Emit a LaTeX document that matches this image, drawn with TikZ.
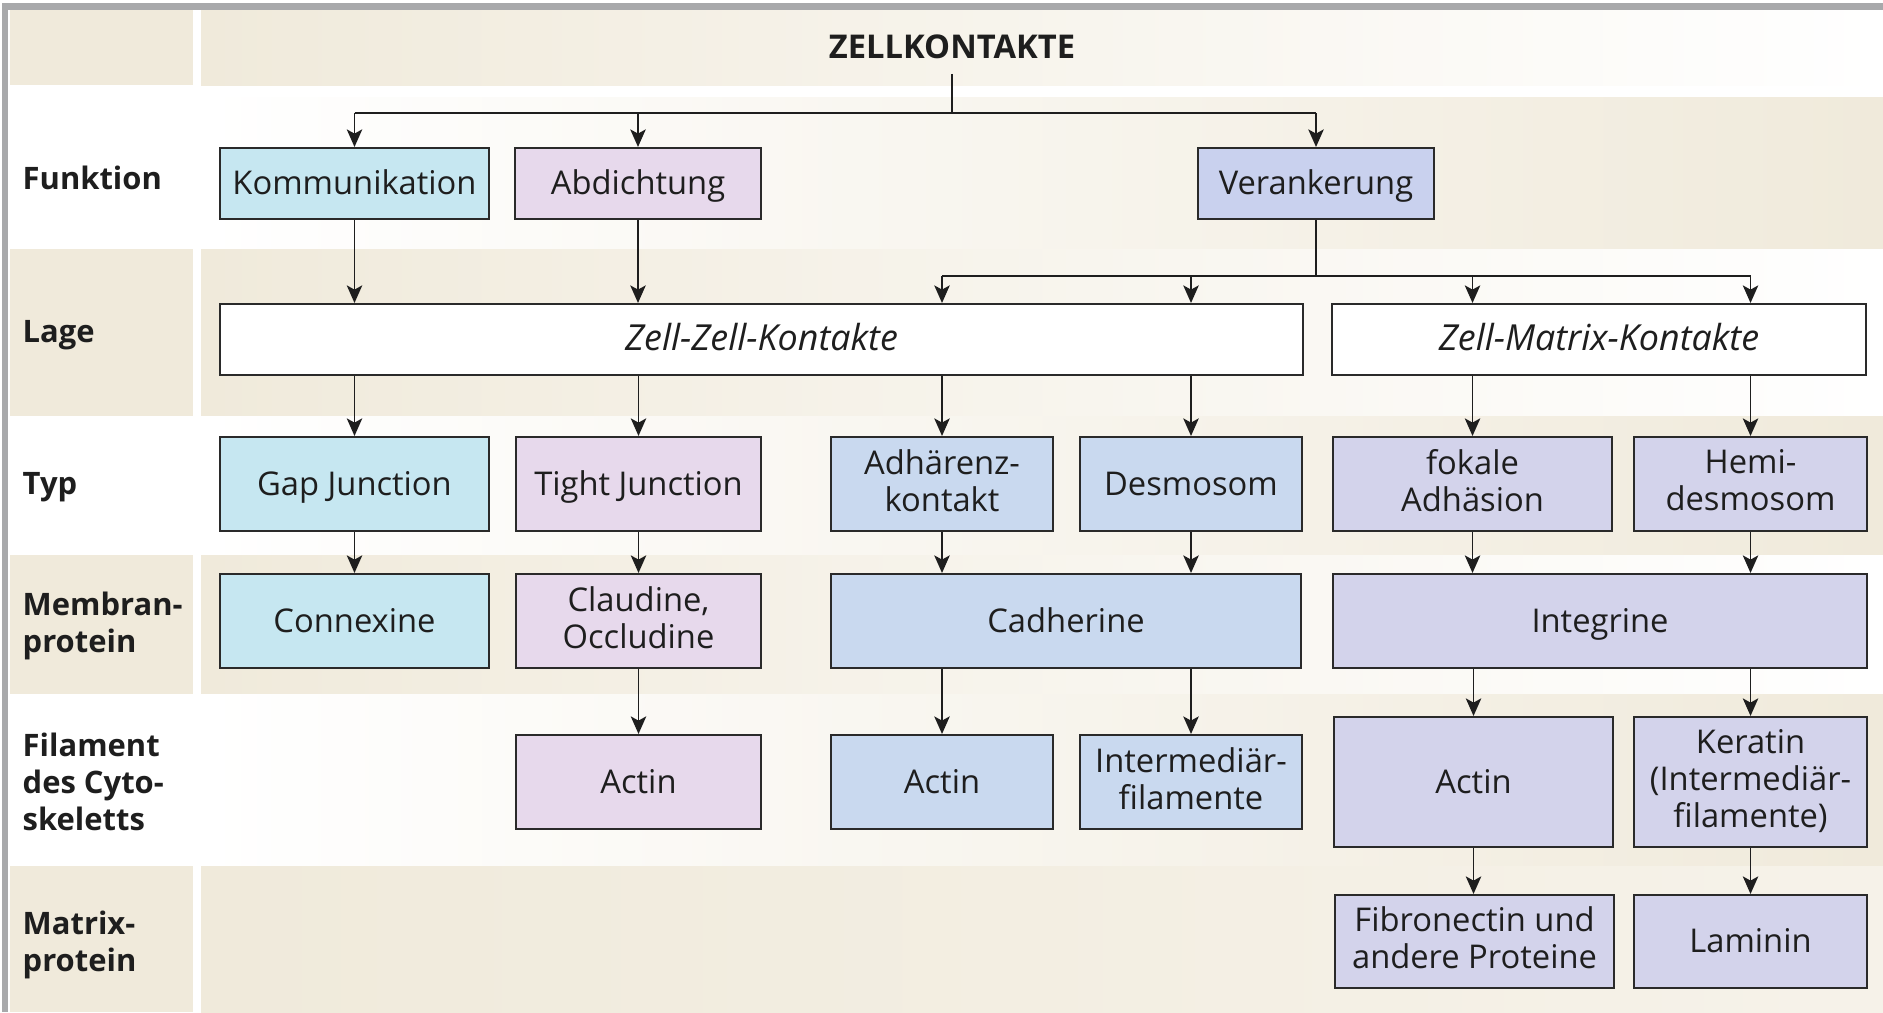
\documentclass[tikz,border=0pt]{standalone}
\usepackage{fontspec}
\setmainfont{Open Sans}
\usetikzlibrary{arrows.meta}

\definecolor{beige}{HTML}{F0EADB}
\definecolor{framegray}{HTML}{A8A9AB}
\definecolor{ink}{HTML}{1E1E1E}
\definecolor{boxline}{HTML}{2A2A2A}
\definecolor{kommcol}{HTML}{C6E7F1}
\definecolor{dichtcol}{HTML}{E7D9EC}
\definecolor{ankercol}{HTML}{C9D1EE}
\definecolor{zzcol}{HTML}{C9D9EF}
\definecolor{zmcol}{HTML}{D3D3EB}

\newcommand{\boxstrut}{\rule[-2.1pt]{0pt}{10.6pt}}

\begin{document}
\begin{tikzpicture}[x=0.01cm, y=-0.01cm,
    font=\fontsize{9.3}{10.6}\selectfont,
    box/.style={draw=boxline, line width=0.57pt, text=ink, align=center, inner sep=0pt,
        execute at begin node=\boxstrut, execute at end node=\boxstrut},
    line/.style={draw=ink, line width=0.5pt},
    arr/.style={line, -{Stealth[length=5pt, width=4.4pt, inset=1.2pt]}},
    rowlabel/.style={anchor=west, align=left, inner sep=0pt, text=ink, font=\fontsize{8.8}{10.6}\selectfont\bfseries},
    lagetext/.style={font=\fontsize{10.2}{11}\selectfont\itshape}]

    % Fix the page to the size of the reference
    \useasboundingbox (0,0) rectangle (1883,1012);

    % Draw the frame lines at the top and the left
    \fill[framegray] (2,3) rectangle (1883,10);
    \fill[framegray] (2,3) rectangle (8,1012);

    % Draw the row bands (label column, then content column)
    \fill[beige] (10,10) rectangle (193,85);
    \shade[left color=beige, right color=white] (201,10) rectangle (1883,85);
    \shade[left color=white, right color=beige] (201,97) rectangle (1883,249);
    \fill[beige] (10,249) rectangle (193,416);
    \shade[left color=beige, right color=white] (201,249) rectangle (1883,416);
    \shade[left color=white, right color=beige] (201,416) rectangle (1883,555);
    \fill[beige] (10,555) rectangle (193,694);
    \shade[left color=beige, right color=white] (201,555) rectangle (1883,694);
    \shade[left color=white, right color=beige] (201,694) rectangle (1883,866);
    \fill[beige] (10,866) rectangle (193,1012);
    \shade[left color=beige, right color=white!40!beige] (201,866) rectangle (1883,1012);

    % Row labels
    \node[rowlabel] (lfunk) at (22,178) {Funktion};
    \node[rowlabel] (llage) at (22,335) {Lage};
    \node[rowlabel] (ltyp) at (22,487) {Typ};
    \node[rowlabel] (lmem) at (22,626) {Membran-\\protein};
    \node[rowlabel] (lfil) at (22,782) {Filament\\des Cyto-\\skeletts};
    \node[rowlabel] (lmat) at (22,945) {Matrix-\\protein};

    % Title
    \node[text=ink, inner sep=4pt, font=\fontsize{9.3}{10.6}\selectfont\bfseries] (title) at (952,47) {ZELLKONTAKTE};

    % Funktion
    \node[box, fill=kommcol, minimum width=2.69cm, minimum height=0.71cm] (komm) at (354.5,183.5) {Kommunikation};
    \node[box, fill=dichtcol, minimum width=2.46cm, minimum height=0.71cm] (abd) at (638,183.5) {Abdichtung};
    \node[box, fill=ankercol, minimum width=2.36cm, minimum height=0.71cm] (ver) at (1316,183.5) {Verankerung};

    % Lage
    \node[box, lagetext, fill=white, minimum width=10.83cm, minimum height=0.71cm] (zz) at (761.5,339.5) {Zell-Zell-Kontakte};
    \node[box, lagetext, fill=white, minimum width=5.34cm, minimum height=0.71cm] (zm) at (1599,339.5) {Zell-Matrix-Kontakte};

    % Typ
    \node[box, fill=kommcol, minimum width=2.69cm, minimum height=0.94cm] (gap) at (354.5,484) {Gap Junction};
    \node[box, fill=dichtcol, minimum width=2.45cm, minimum height=0.94cm] (tight) at (638.5,484) {Tight Junction};
    \node[box, fill=zzcol, minimum width=2.22cm, minimum height=0.94cm] (adh) at (942,484) {Adhärenz-\\kontakt};
    \node[box, fill=zzcol, minimum width=2.22cm, minimum height=0.94cm] (des) at (1191,484) {Desmosom};
    \node[box, fill=zmcol, minimum width=2.79cm, minimum height=0.94cm] (fok) at (1472.5,484) {fokale\\Adhäsion};
    \node[box, fill=zmcol, minimum width=2.33cm, minimum height=0.94cm] (hemi) at (1750.5,484) {Hemi-\\desmosom};

    % Membranprotein
    \node[box, fill=kommcol, minimum width=2.69cm, minimum height=0.94cm] (conn) at (354.5,621) {Connexine};
    \node[box, fill=dichtcol, minimum width=2.45cm, minimum height=0.94cm] (claud) at (638.5,621) {Claudine,\\Occludine};
    \node[box, fill=zzcol, minimum width=4.70cm, minimum height=0.94cm] (cad) at (1066,621) {Cadherine};
    \node[box, fill=zmcol, minimum width=5.34cm, minimum height=0.94cm] (integ) at (1600,621) {Integrine};

    % Filament des Cytoskeletts
    \node[box, fill=dichtcol, minimum width=2.45cm, minimum height=0.94cm] (actinA) at (638.5,782) {Actin};
    \node[box, fill=zzcol, minimum width=2.22cm, minimum height=0.94cm] (actinB) at (942,782) {Actin};
    \node[box, fill=zzcol, minimum width=2.22cm, minimum height=0.94cm] (inter) at (1191,782) {Intermediär-\\filamente};
    \node[box, fill=zmcol, minimum width=2.79cm, minimum height=1.30cm] (actinC) at (1473.5,782) {Actin};
    \node[box, fill=zmcol, minimum width=2.33cm, minimum height=1.30cm] (kera) at (1750.5,782) {Keratin\\(Intermediär-\\filamente)};

    % Matrixprotein
    \node[box, fill=zmcol, minimum width=2.79cm, minimum height=0.93cm] (fib) at (1474.5,941.5) {Fibronectin und\\andere Proteine};
    \node[box, fill=zmcol, minimum width=2.33cm, minimum height=0.93cm] (lam) at (1750.5,941.5) {Laminin};

    % Draw the branches from the title
    \coordinate (tsplit) at (952,113);
    \draw[line] (title.south) -- (tsplit);
    \draw[line] (tsplit -| komm) -- (tsplit -| ver);
    \foreach \n in {komm, abd, ver}
        \draw[arr] (tsplit -| \n) -- (\n.north);

    % Draw the arrows from Funktion to Lage
    \draw[arr] (komm.south) -- (zz.north -| komm);
    \draw[arr] (abd.south) -- (zz.north -| abd);
    \coordinate (vsplit) at (1316,276);
    \draw[line] (ver.south) -- (vsplit);
    \draw[line] (vsplit -| adh) -- (vsplit -| hemi);
    \foreach \n/\m in {adh/zz, des/zz, fok/zm, hemi/zm}
        \draw[arr] (vsplit -| \n) -- (\m.north -| \n);

    % Draw the arrows from Lage to Typ
    \foreach \n/\m in {gap/zz, tight/zz, adh/zz, des/zz, fok/zm, hemi/zm}
        \draw[arr] (\m.south -| \n) -- (\n.north);

    % Draw the arrows from Typ to Membranprotein
    \draw[arr] (gap.south) -- (conn.north -| gap);
    \draw[arr] (tight.south) -- (claud.north -| tight);
    \foreach \n/\m in {adh/cad, des/cad, fok/integ, hemi/integ}
        \draw[arr] (\n.south) -- (\m.north -| \n);

    % Draw the arrows from Membranprotein to Filament
    \draw[arr] (claud.south) -- (actinA.north -| claud);
    \foreach \n/\m in {actinB/cad, inter/cad, actinC/integ, kera/integ}
        \draw[arr] (\m.south -| \n) -- (\n.north);

    % Draw the arrows from Filament to Matrixprotein
    \draw[arr] (actinC.south) -- (fib.north -| actinC);
    \draw[arr] (kera.south) -- (lam.north -| kera);
\end{tikzpicture}
\end{document}
